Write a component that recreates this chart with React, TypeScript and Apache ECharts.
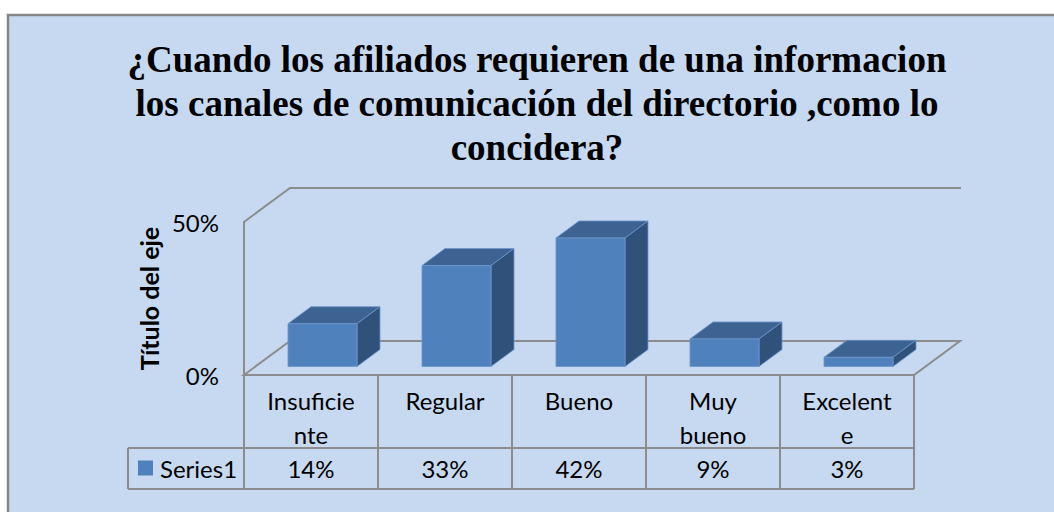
import React, { useEffect, useRef } from "react";
import * as echarts from "echarts";

const titleText =
  "¿Cuando los afiliados requieren de una informacion\nlos canales de comunicación del directorio ,como lo\nconcidera?";
const categories = ["Insuficiente", "Regular", "Bueno", "Muy bueno", "Excelente"];
const tickLabels = ["Insuficie\nnte", "Regular", "Bueno", "Muy\nbueno", "Excelent\ne"];
const seriesName = "Series1";
const values = [0.14, 0.33, 0.42, 0.09, 0.03];
const yMin = 0;
const yMax = 0.5;
const yInterval = 0.5;
const axisTitle = "Título del eje";

const DX = 46;
const DY = -34;
const HEADER_H = 73;
const ROW_H = 41;
const LEGEND_W = 116;
const FRONT = "#4F81BD";
const TOP = "#3C6392";
const SIDE = "#30527A";
const LINE = "#8C8C8C";
const FONT = "Lato";

const pct = (v: number) => Math.round(v * 100) + "%";

export default function App() {
  const ref = useRef<HTMLDivElement>(null);
  useEffect(() => {
    if (!ref.current) return;
    const chart = echarts.init(ref.current, null, { renderer: "svg" });
    const nCat = categories.length;
    chart.setOption({
      animation: false,
      backgroundColor: "#ffffff",
      graphic: [
        {
          type: "rect",
          z: -10,
          shape: { x: 8, y: 15, width: 1100, height: 600 },
          style: { fill: "#C6D9F0", stroke: "#868686", lineWidth: 2.5 },
        },
      ],
      title: {
        text: titleText,
        left: 537,
        top: 37,
        textAlign: "center",
        padding: 0,
        textStyle: {
          fontFamily: "Liberation Serif",
          fontWeight: "bold",
          fontSize: 37,
          lineHeight: 44,
          color: "#000",
        },
      },
      legend: {
        data: [seriesName],
        left: 138,
        top: 456,
        padding: 0,
        itemWidth: 15,
        itemHeight: 15,
        icon: "rect",
        itemGap: 0,
        textStyle: { fontFamily: FONT, fontSize: 24, color: "#000", padding: [0, 0, 0, 2] },
      },
      grid: { left: 244, right: 140, top: 222, bottom: 137, containLabel: false },
      xAxis: {
        type: "category",
        data: categories,
        axisLine: { show: false },
        axisTick: { show: false },
        splitLine: { show: false },
        axisLabel: {
          margin: 8,
          interval: 0,
          fontFamily: FONT,
          fontSize: 24,
          lineHeight: 34,
          color: "#000",
          formatter: (_: string, i: number) => tickLabels[i],
        },
      },
      yAxis: {
        type: "value",
        min: yMin,
        max: yMax,
        interval: yInterval,
        axisLine: { show: false },
        axisTick: { show: false },
        splitLine: { show: false },
        axisLabel: {
          margin: 25,
          fontFamily: FONT,
          fontSize: 24,
          color: "#000",
          formatter: (v: number) => pct(v),
        },
        name: axisTitle,
        nameLocation: "middle",
        nameRotate: 90,
        nameGap: 81,
        nameTextStyle: { fontFamily: FONT, fontSize: 25, fontWeight: "bold", color: "#000" },
      },
      series: [
        {
          type: "custom",
          name: "frame",
          z: 1,
          clip: false,
          silent: true,
          data: [[0, 0]],
          renderItem: (_p: any, api: any) => {
            const bw = api.size([1, 0])[0];
            const L = api.coord([0, yMin])[0] - bw / 2;
            const R = api.coord([nCat - 1, yMin])[0] + bw / 2;
            const B = api.coord([0, yMin])[1];
            const T = api.coord([0, yMax])[1];
            const ls = { stroke: LINE, lineWidth: 2, fill: "none" };
            const children: any[] = [
              {
                type: "polygon",
                shape: { points: [[L, B], [R, B], [R + DX, B + DY], [L + DX, B + DY]] },
                style: ls,
              },
              {
                type: "polyline",
                shape: { points: [[L, B], [L, T], [L + DX, T + DY], [R + DX + 1, T + DY]] },
                style: ls,
              },
              { type: "line", shape: { x1: L - LEGEND_W, y1: B + HEADER_H, x2: R, y2: B + HEADER_H }, style: ls },
              {
                type: "line",
                shape: { x1: L - LEGEND_W, y1: B + HEADER_H + ROW_H, x2: R, y2: B + HEADER_H + ROW_H },
                style: ls,
              },
              {
                type: "line",
                shape: { x1: L - LEGEND_W, y1: B + HEADER_H, x2: L - LEGEND_W, y2: B + HEADER_H + ROW_H },
                style: ls,
              },
            ];
            for (let k = 0; k <= nCat; k++) {
              const x = L + k * bw;
              children.push({
                type: "line",
                shape: { x1: x, y1: B, x2: x, y2: B + HEADER_H + ROW_H },
                style: ls,
              });
            }
            return { type: "group", children };
          },
        },
        {
          type: "custom",
          name: seriesName,
          z: 2,
          clip: false,
          itemStyle: { color: FRONT },
          encode: { x: 0, y: 1 },
          data: values.map((v, i) => [i, v]),
          renderItem: (_p: any, api: any) => {
            const i = api.value(0);
            const v = api.value(1);
            const base = api.coord([i, 0]);
            const top = api.coord([i, v]);
            const bw = api.size([1, 0])[0];
            const w = bw * 0.515;
            const fx = base[0] - w / 2 + 0.25 * DX;
            const fy0 = base[1] + 0.25 * DY;
            const fy1 = top[1] + 0.25 * DY;
            const ddx = 0.5 * DX;
            const ddy = 0.5 * DY;
            const edge = { stroke: "rgba(110,150,205,0.8)", lineWidth: 1 };
            return {
              type: "group",
              children: [
                {
                  type: "polygon",
                  shape: {
                    points: [[fx, fy1], [fx + w, fy1], [fx + w + ddx, fy1 + ddy], [fx + ddx, fy1 + ddy]],
                  },
                  style: { fill: TOP, ...edge },
                },
                {
                  type: "polygon",
                  shape: {
                    points: [[fx + w, fy1], [fx + w + ddx, fy1 + ddy], [fx + w + ddx, fy0 + ddy], [fx + w, fy0]],
                  },
                  style: { fill: SIDE, ...edge },
                },
                {
                  type: "rect",
                  shape: { x: fx, y: fy1, width: w, height: fy0 - fy1 },
                  style: { fill: FRONT, ...edge },
                },
                {
                  type: "text",
                  style: {
                    text: pct(v),
                    x: base[0],
                    y: base[1] + HEADER_H + ROW_H / 2,
                    align: "center",
                    verticalAlign: "middle",
                    fontFamily: FONT,
                    fontSize: 24,
                    fill: "#000",
                  },
                },
              ],
            };
          },
        },
      ],
    });
    return () => chart.dispose();
  }, []);
  return (
    <div
      ref={ref}
      style={{ position: "absolute", left: 0, top: 0, width: 1054, height: 512 }}
    />
  );
}
